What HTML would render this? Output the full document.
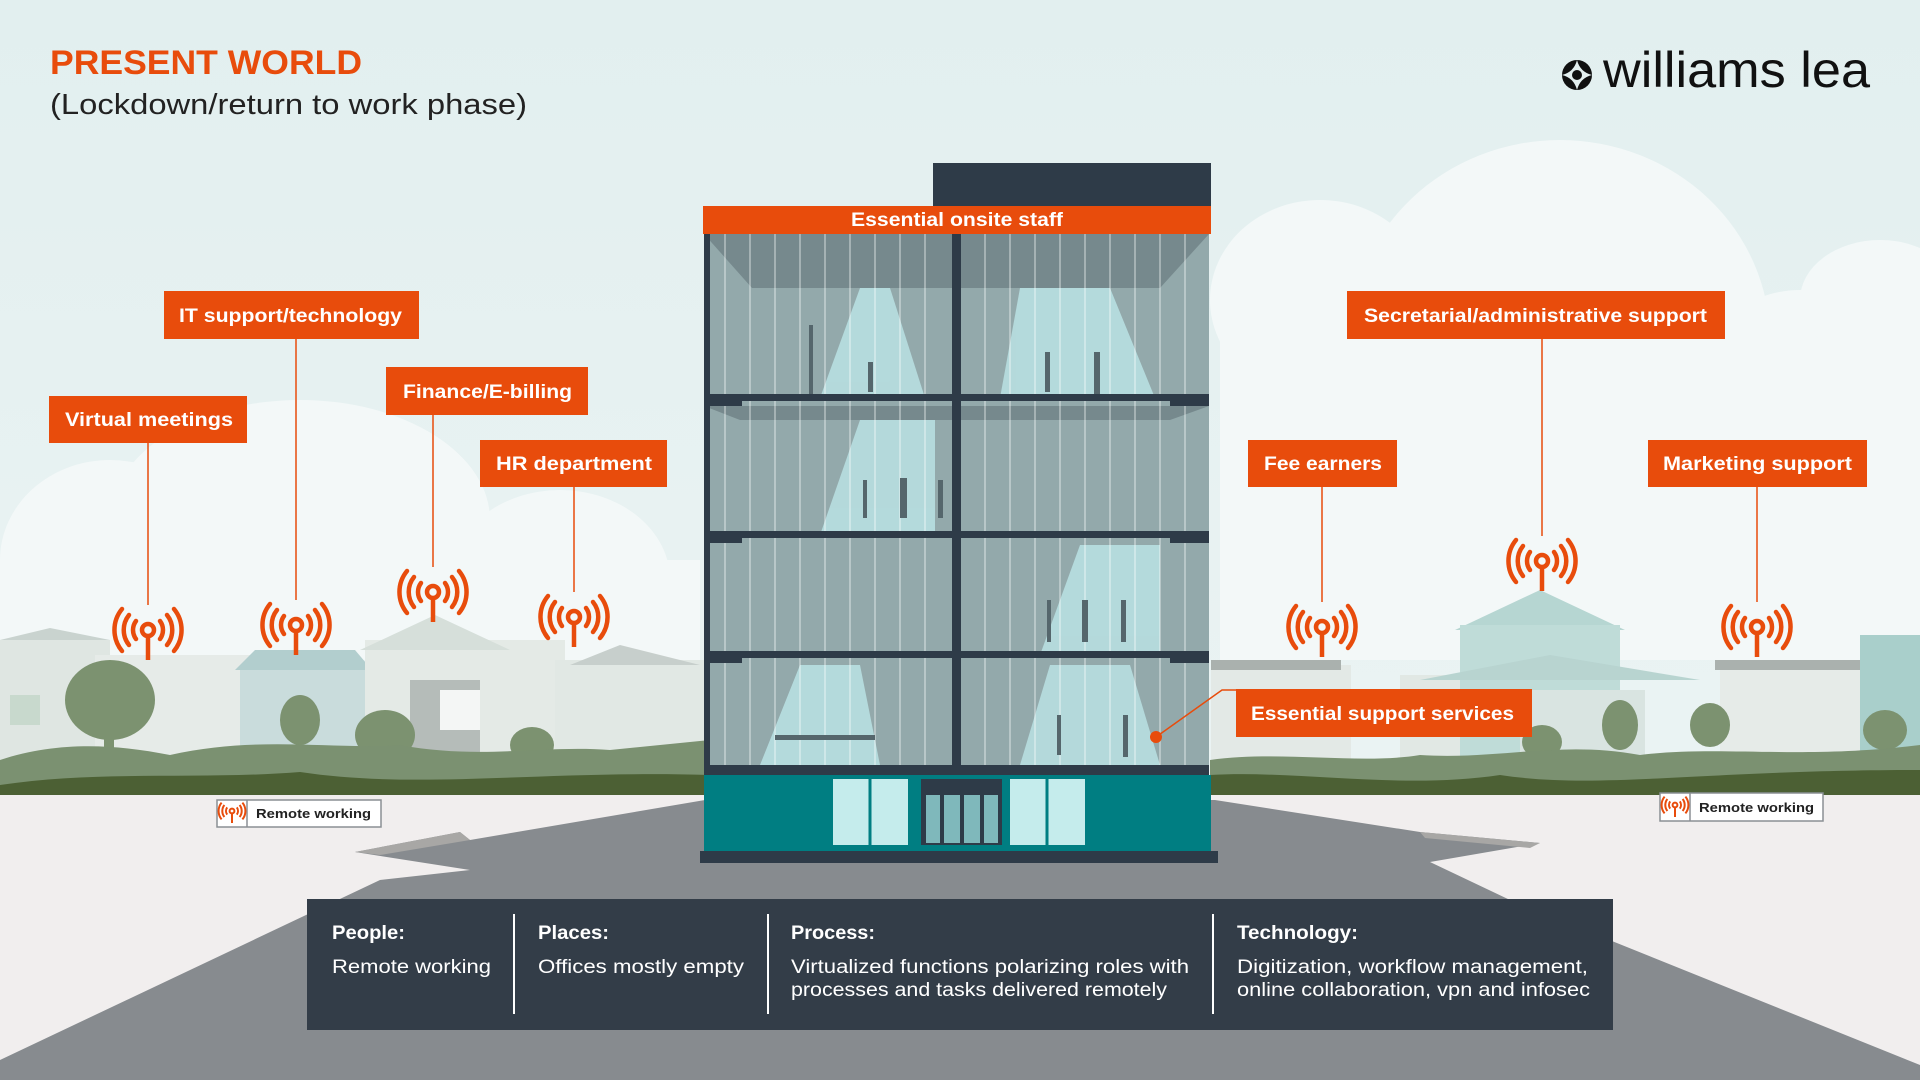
<!DOCTYPE html>
<html><head><meta charset="utf-8"><style>
html,body{margin:0;padding:0;width:1920px;height:1080px;overflow:hidden;background:#e4f0f0;font-family:"Liberation Sans",sans-serif}
svg{display:block}
</style></head><body>
<svg width="1920" height="1080" viewBox="0 0 1920 1080" xmlns="http://www.w3.org/2000/svg" font-family="Liberation Sans, sans-serif">
<defs>
<linearGradient id="sky" x1="0" y1="0" x2="0" y2="1"><stop offset="0" stop-color="#e2efef"/><stop offset="1" stop-color="#eef5f5"/></linearGradient>
<g id="ant">
<circle cx="0" cy="0" r="6" fill="none" stroke="#e84c0c" stroke-width="4.5"/>
<line x1="0" y1="6" x2="0" y2="30" stroke="#e84c0c" stroke-width="4.5"/>
<g fill="none" stroke="#e84c0c" stroke-width="4.5" stroke-linecap="round">
<path d="M-12,-9 A15,15 0 0 0 -12,9"/><path d="M12,-9 A15,15 0 0 1 12,9"/>
<path d="M-19,-15 A24,24 0 0 0 -19,15"/><path d="M19,-15 A24,24 0 0 1 19,15"/>
<path d="M-26,-21 A33,33 0 0 0 -26,21"/><path d="M26,-21 A33,33 0 0 1 26,21"/>
</g></g>
<g id="sant" transform="scale(0.4)">
<circle cx="0" cy="0" r="6" fill="none" stroke="#e84c0c" stroke-width="5"/>
<line x1="0" y1="6" x2="0" y2="30" stroke="#e84c0c" stroke-width="5"/>
<g fill="none" stroke="#e84c0c" stroke-width="5">
<path d="M-12,-9 A15,15 0 0 0 -12,9"/><path d="M12,-9 A15,15 0 0 1 12,9"/>
<path d="M-19,-15 A24,24 0 0 0 -19,15"/><path d="M19,-15 A24,24 0 0 1 19,15"/>
<path d="M-26,-21 A33,33 0 0 0 -26,21"/><path d="M26,-21 A33,33 0 0 1 26,21"/>
</g></g>
</defs>
<rect width="1920" height="1080" fill="url(#sky)"/>
<!-- clouds -->
<g fill="#f3f8f8">
<ellipse cx="110" cy="560" rx="110" ry="100"/><ellipse cx="300" cy="520" rx="190" ry="120"/><ellipse cx="560" cy="580" rx="110" ry="90"/>
<rect x="0" y="560" width="700" height="100"/>
<ellipse cx="1320" cy="300" rx="110" ry="100"/><ellipse cx="1560" cy="340" rx="210" ry="200"/><ellipse cx="1800" cy="400" rx="110" ry="110"/>
<rect x="1220" y="320" width="700" height="340"/>
<ellipse cx="1880" cy="300" rx="80" ry="60"/>
</g>
<!-- houses left -->
<g>
<rect x="0" y="640" width="110" height="130" fill="#dfe6e2"/><polygon points="0,640 50,628 110,640" fill="#c9d3cf"/>
<rect x="95" y="655" width="200" height="120" fill="#e6ebe8"/>
<rect x="240" y="668" width="130" height="110" fill="#c9dcdc"/><polygon points="235,670 255,650 355,650 372,670" fill="#b2cece"/>
<rect x="365" y="640" width="200" height="140" fill="#e4eae6"/><polygon points="360,650 435,615 510,650" fill="#d6dfda"/>
<rect x="410" y="680" width="70" height="100" fill="#b5bcb9"/>
<rect x="555" y="660" width="150" height="120" fill="#e1e8e4"/><polygon points="570,665 620,645 700,665" fill="#c7cfcc"/>
<rect x="10" y="695" width="30" height="30" fill="#c8d9cd"/><rect x="440" y="690" width="40" height="40" fill="#f4f6f5"/>
</g>
<!-- houses right -->
<g>
<rect x="1211" y="665" width="140" height="110" fill="#e3e9e6"/><rect x="1211" y="660" width="130" height="10" fill="#aab1ae"/>
<rect x="1400" y="675" width="120" height="100" fill="#e1e8e4"/>
<polygon points="1455,630 1540,590 1625,630" fill="#b6d6d2"/><rect x="1460" y="625" width="160" height="150" fill="#bfdcd8"/>
<polygon points="1420,680 1550,655 1700,680" fill="#b8d4d0"/>
<rect x="1520" y="690" width="125" height="85" fill="#d9e4e1"/>
<rect x="1720" y="660" width="150" height="115" fill="#e6ebe8"/><rect x="1715" y="660" width="160" height="10" fill="#aab1ae"/>
<rect x="1860" y="635" width="60" height="140" fill="#a9cfcb"/>
</g>
<!-- trees -->
<g fill="#7c9270">
<ellipse cx="110" cy="700" rx="45" ry="40"/><rect x="104" y="710" width="10" height="60"/>
<ellipse cx="300" cy="720" rx="20" ry="25"/><ellipse cx="385" cy="735" rx="30" ry="25"/><ellipse cx="532" cy="745" rx="22" ry="18"/>
<ellipse cx="1542" cy="742" rx="20" ry="17"/><ellipse cx="1620" cy="725" rx="18" ry="25"/><ellipse cx="1710" cy="725" rx="20" ry="22"/><ellipse cx="1885" cy="730" rx="22" ry="20"/>
</g>
<!-- hills -->
<path d="M0,760 C60,740 120,745 170,755 C260,735 330,750 400,745 C480,760 540,745 610,750 L710,740 L710,800 L0,800Z" fill="#7b9171"/>
<path d="M0,785 C100,770 200,780 300,772 C420,790 540,770 710,775 L710,800 L0,800Z" fill="#4c6034"/>
<path d="M1210,760 C1280,750 1360,765 1420,755 C1500,760 1560,740 1640,755 C1720,745 1800,760 1920,745 L1920,795 L1210,795Z" fill="#7b9171"/>
<path d="M1210,775 C1300,770 1400,790 1500,775 C1600,790 1700,770 1920,770 L1920,795 L1210,795Z" fill="#4c6034"/>
<!-- ground -->
<rect x="0" y="795" width="1920" height="285" fill="#f1eeee"/>
<polygon points="0,1080 0,1060 380,880 470,870 355,852 460,832 470,840 705,800 1215,800 1420,832 1540,843 1430,862 1510,900 1920,1065 1920,1080" fill="#878b8f"/>
<polygon points="355,852 460,832 470,840 380,855" fill="#a8a7a5"/>
<polygon points="1420,832 1540,843 1530,848 1425,838" fill="#a8a7a5"/>
<!-- building -->
<rect x="933" y="163" width="278" height="45" fill="#2e3b48"/>
<rect x="704" y="234" width="505" height="535" fill="#93a9ab"/>
<g fill="#b8dfe1" opacity="0.9">
<polygon points="860,288 890,288 925,398 820,398"/><polygon points="1020,288 1110,288 1155,398 1000,398"/>
<polygon points="860,420 935,420 935,535 820,535"/><polygon points="1080,545 1160,545 1160,655 1040,655"/>
<polygon points="800,665 860,665 880,765 760,765"/><polygon points="1050,665 1130,665 1160,765 1020,765"/>
</g>
<g fill="#76898d"><polygon points="704,234 1209,234 1160,288 752,288"/><polygon points="704,406 1209,406 1170,420 740,420"/></g>
<g stroke="#ffffff" stroke-opacity="0.35" stroke-width="2">
<line x1="725" y1="234" x2="725" y2="765"/><line x1="750" y1="234" x2="750" y2="765"/><line x1="775" y1="234" x2="775" y2="765"/><line x1="800" y1="234" x2="800" y2="765"/><line x1="825" y1="234" x2="825" y2="765"/><line x1="850" y1="234" x2="850" y2="765"/><line x1="875" y1="234" x2="875" y2="765"/><line x1="900" y1="234" x2="900" y2="765"/><line x1="925" y1="234" x2="925" y2="765"/>
<line x1="985" y1="234" x2="985" y2="765"/><line x1="1010" y1="234" x2="1010" y2="765"/><line x1="1035" y1="234" x2="1035" y2="765"/><line x1="1060" y1="234" x2="1060" y2="765"/><line x1="1085" y1="234" x2="1085" y2="765"/><line x1="1110" y1="234" x2="1110" y2="765"/><line x1="1135" y1="234" x2="1135" y2="765"/><line x1="1160" y1="234" x2="1160" y2="765"/><line x1="1185" y1="234" x2="1185" y2="765"/>
</g>
<g fill="#55666c">
<rect x="809" y="325" width="4" height="70"/><rect x="868" y="362" width="5" height="30"/><rect x="1045" y="352" width="5" height="40"/><rect x="1094" y="352" width="6" height="42"/>
<rect x="863" y="480" width="4" height="38"/><rect x="900" y="478" width="7" height="40"/><rect x="938" y="480" width="5" height="38"/>
<rect x="1047" y="600" width="4" height="42"/><rect x="1082" y="600" width="6" height="42"/><rect x="1121" y="600" width="5" height="42"/>
<rect x="1057" y="715" width="4" height="40"/><rect x="1123" y="715" width="5" height="42"/>
<rect x="775" y="735" width="100" height="5"/>
</g>
<g fill="#2e3b48">
<rect x="704" y="234" width="6" height="535"/>
<rect x="952" y="234" width="9" height="535"/>
<rect x="704" y="394" width="505" height="7"/><rect x="704" y="394" width="38" height="12"/><rect x="1170" y="394" width="39" height="12"/>
<rect x="704" y="531" width="505" height="7"/><rect x="704" y="531" width="38" height="12"/><rect x="1170" y="531" width="39" height="12"/>
<rect x="704" y="651" width="505" height="7"/><rect x="704" y="651" width="38" height="12"/><rect x="1170" y="651" width="39" height="12"/>
<rect x="704" y="765" width="505" height="10"/>
</g>
<rect x="704" y="775" width="507" height="76" fill="#007e82"/>
<rect x="833" y="779" width="75" height="66" fill="#c5ecec"/><rect x="1010" y="779" width="75" height="66" fill="#c5ecec"/>
<line x1="870" y1="779" x2="870" y2="845" stroke="#007e82" stroke-width="3"/><line x1="1047" y1="779" x2="1047" y2="845" stroke="#007e82" stroke-width="3"/>
<rect x="921" y="779" width="81" height="66" fill="#2e3b48"/>
<g fill="#7fb8bb"><rect x="926" y="795" width="14" height="48"/><rect x="944" y="795" width="16" height="48"/><rect x="964" y="795" width="16" height="48"/><rect x="984" y="795" width="14" height="48"/></g>
<rect x="700" y="851" width="518" height="12" fill="#2e3b48"/>
<!-- top label -->
<rect x="703" y="206" width="508" height="28" fill="#e84c0c"/>
<text x="851" y="226" fill="#fff" font-size="19" font-weight="bold" textLength="212" lengthAdjust="spacingAndGlyphs">Essential onsite staff</text>
<!-- connectors -->
<g stroke="#e84c0c" stroke-width="1.5">
<line x1="148" y1="443" x2="148" y2="605"/><line x1="296" y1="339" x2="296" y2="600"/><line x1="433" y1="415" x2="433" y2="567"/><line x1="574" y1="487" x2="574" y2="592"/>
<line x1="1322" y1="487" x2="1322" y2="602"/><line x1="1542" y1="339" x2="1542" y2="536"/><line x1="1757" y1="487" x2="1757" y2="602"/>
<polyline points="1156,737 1222,690 1236,690" fill="none"/>
</g>
<circle cx="1156" cy="737" r="6" fill="#e84c0c"/>
<use href="#ant" x="148" y="630"/><use href="#ant" x="296" y="625"/><use href="#ant" x="433" y="592"/><use href="#ant" x="574" y="617"/>
<use href="#ant" x="1322" y="627"/><use href="#ant" x="1542" y="561"/><use href="#ant" x="1757" y="627"/>
<!-- labels -->
<g fill="#e84c0c">
<rect x="164" y="291" width="255" height="48"/><rect x="49" y="396" width="198" height="47"/><rect x="386" y="367" width="202" height="48"/><rect x="480" y="440" width="187" height="47"/>
<rect x="1347" y="291" width="378" height="48"/><rect x="1248" y="440" width="149" height="47"/><rect x="1648" y="440" width="219" height="47"/><rect x="1236" y="689" width="296" height="48"/>
</g>
<g fill="#fff" font-size="19" font-weight="bold" lengthAdjust="spacingAndGlyphs">
<text x="179" y="322" textLength="223" lengthAdjust="spacingAndGlyphs">IT support/technology</text>
<text x="65" y="426" textLength="168" lengthAdjust="spacingAndGlyphs">Virtual meetings</text>
<text x="403" y="398" textLength="169" lengthAdjust="spacingAndGlyphs">Finance/E-billing</text>
<text x="496" y="470" textLength="156" lengthAdjust="spacingAndGlyphs">HR department</text>
<text x="1364" y="322" textLength="343" lengthAdjust="spacingAndGlyphs">Secretarial/administrative support</text>
<text x="1264" y="470" textLength="118" lengthAdjust="spacingAndGlyphs">Fee earners</text>
<text x="1663" y="470" textLength="189" lengthAdjust="spacingAndGlyphs">Marketing support</text>
<text x="1251" y="720" textLength="263" lengthAdjust="spacingAndGlyphs">Essential support services</text>
</g>
<!-- remote working -->
<g>
<rect x="217" y="800" width="164" height="27" fill="#fff" stroke="#8a8f94" stroke-width="1.5"/><line x1="247" y1="800" x2="247" y2="827" stroke="#8a8f94" stroke-width="1.5"/>
<use href="#sant" x="232" y="811"/>
<text x="256" y="818" font-size="13" font-weight="bold" fill="#222" textLength="115" lengthAdjust="spacingAndGlyphs">Remote working</text>
<rect x="1660" y="793" width="163" height="28" fill="#fff" stroke="#8a8f94" stroke-width="1.5"/><line x1="1690" y1="793" x2="1690" y2="821" stroke="#8a8f94" stroke-width="1.5"/>
<use href="#sant" x="1675" y="805"/>
<text x="1699" y="812" font-size="13" font-weight="bold" fill="#222" textLength="115" lengthAdjust="spacingAndGlyphs">Remote working</text>
</g>
<!-- bottom panel -->
<rect x="307" y="899" width="1306" height="131" fill="#333d48"/>
<g stroke="#fff" stroke-width="2"><line x1="514" y1="914" x2="514" y2="1014"/><line x1="768" y1="914" x2="768" y2="1014"/><line x1="1213" y1="914" x2="1213" y2="1014"/></g>
<g fill="#fff" font-size="19">
<text x="332" y="939" font-weight="bold" textLength="73" lengthAdjust="spacingAndGlyphs">People:</text><text x="332" y="973" textLength="159" lengthAdjust="spacingAndGlyphs">Remote working</text>
<text x="538" y="939" font-weight="bold" textLength="71" lengthAdjust="spacingAndGlyphs">Places:</text><text x="538" y="973" textLength="206" lengthAdjust="spacingAndGlyphs">Offices mostly empty</text>
<text x="791" y="939" font-weight="bold" textLength="84" lengthAdjust="spacingAndGlyphs">Process:</text><text x="791" y="973" textLength="398" lengthAdjust="spacingAndGlyphs">Virtualized functions polarizing roles with</text><text x="791" y="996" textLength="376" lengthAdjust="spacingAndGlyphs">processes and tasks delivered remotely</text>
<text x="1237" y="939" font-weight="bold" textLength="121" lengthAdjust="spacingAndGlyphs">Technology:</text><text x="1237" y="973" textLength="351" lengthAdjust="spacingAndGlyphs">Digitization, workflow management,</text><text x="1237" y="996" textLength="353" lengthAdjust="spacingAndGlyphs">online collaboration, vpn and infosec</text>
</g>
<!-- header -->
<text x="50" y="74" font-size="34" font-weight="bold" fill="#e84c0c" textLength="312" lengthAdjust="spacingAndGlyphs">PRESENT WORLD</text>
<text x="50" y="114" font-size="29" fill="#222" textLength="477" lengthAdjust="spacingAndGlyphs">(Lockdown/return to work phase)</text>
<g transform="translate(1577,75)" fill="#111">
<circle r="15"/>
<path d="M0,-15 Q3,-3 15,0 Q3,3 0,15 Q-3,3 -15,0 Q-3,-3 0,-15Z" fill="#e4f0f0"/>
<circle r="5" fill="#111"/>
</g>
<text x="1603" y="87" font-size="50" fill="#111" textLength="267" lengthAdjust="spacingAndGlyphs">williams lea</text>
</svg>
</body></html>
